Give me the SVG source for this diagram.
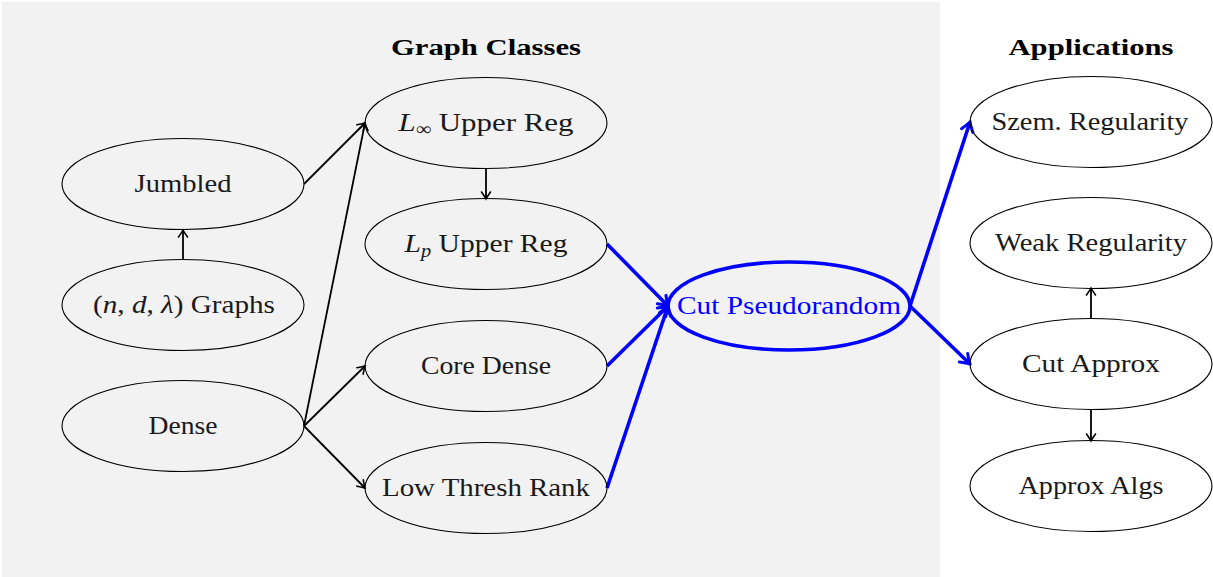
<svg xmlns="http://www.w3.org/2000/svg" width="1213" height="577" viewBox="0 0 1213 577">
<style>
.bg{fill:#f2f2f2}
.node{fill:none;stroke:#000;stroke-width:1.1}
.hub{fill:none;stroke:#0000ff;stroke-width:3.6}
.lbl{font-family:"Liberation Serif","Times New Roman",serif;font-size:26px;fill:#1a1a1a;text-anchor:middle}
.it{font-style:italic}
.sub{font-size:18px}
.title{font-family:"Liberation Serif","Times New Roman",serif;font-size:23px;font-weight:bold;fill:#000;text-anchor:middle}
.blk{stroke:#000;stroke-width:1.8;fill:none}
.blu{stroke:#0000ff;stroke-width:3.6;fill:none}
</style>
<defs>
<marker id="ab" viewBox="-10 -6 12 12" refX="0" refY="0" markerWidth="12" markerHeight="12" markerUnits="userSpaceOnUse" orient="auto">
<path d="M-7,-4.5 Q-2,-1 0,0 Q-2,1 -7,4.5" fill="none" stroke="#000" stroke-width="1.6" stroke-linecap="round"/>
</marker>
<marker id="au" viewBox="-12 -8 14 16" refX="0" refY="0" markerWidth="14" markerHeight="16" markerUnits="userSpaceOnUse" orient="auto">
<path d="M-9,-6 Q-3,-1.5 0,0 Q-3,1.5 -9,6" fill="none" stroke="#0000ff" stroke-width="3" stroke-linecap="round"/>
</marker>
</defs>
<rect class="bg" x="2" y="2" width="938" height="575"/>
<text class="title" x="486" y="55" textLength="190" lengthAdjust="spacingAndGlyphs">Graph Classes</text>
<text class="title" x="1091" y="55" textLength="165" lengthAdjust="spacingAndGlyphs">Applications</text>
<g id="connectors">
<line class="blk" x1="183" y1="260" x2="183" y2="230" marker-end="url(#ab)"/>
<line class="blk" x1="304" y1="184" x2="365" y2="123" marker-end="url(#ab)"/>
<line class="blk" x1="304" y1="426" x2="365" y2="123" marker-end="url(#ab)"/>
<line class="blk" x1="304" y1="426" x2="365" y2="366" marker-end="url(#ab)"/>
<line class="blk" x1="304" y1="426" x2="365" y2="488" marker-end="url(#ab)"/>
<line class="blk" x1="486" y1="169" x2="486" y2="199" marker-end="url(#ab)"/>
<line class="blu" x1="607" y1="244" x2="668" y2="306" marker-end="url(#au)"/>
<line class="blu" x1="607" y1="366" x2="668" y2="306" marker-end="url(#au)"/>
<line class="blu" x1="607" y1="488" x2="668" y2="306" marker-end="url(#au)"/>
<line class="blu" x1="910" y1="306" x2="970" y2="122" marker-end="url(#au)"/>
<line class="blu" x1="910" y1="306" x2="970" y2="364" marker-end="url(#au)"/>
<line class="blk" x1="1091" y1="319" x2="1091" y2="288" marker-end="url(#ab)"/>
<line class="blk" x1="1091" y1="410" x2="1091" y2="441" marker-end="url(#ab)"/>
</g>
<g id="jumbled"><ellipse class="node" cx="183" cy="184" rx="121" ry="45.5"/><text class="lbl" x="183" y="192" textLength="97" lengthAdjust="spacingAndGlyphs">Jumbled</text></g>
<g id="ndl"><ellipse class="node" cx="183" cy="305" rx="121" ry="45.5"/><text class="lbl" x="184" y="313" textLength="182" lengthAdjust="spacingAndGlyphs">(<tspan class="it">n</tspan>, <tspan class="it">d</tspan>, <tspan class="it">λ</tspan>) Graphs</text></g>
<g id="dense"><ellipse class="node" cx="183" cy="426" rx="121" ry="45.5"/><text class="lbl" x="183" y="434" textLength="69" lengthAdjust="spacingAndGlyphs">Dense</text></g>
<g id="linf"><ellipse class="node" cx="486" cy="123" rx="121" ry="45.5"/><text class="lbl" x="486" y="131" textLength="175" lengthAdjust="spacingAndGlyphs"><tspan class="it">L</tspan><tspan class="sub" dy="4">∞</tspan><tspan dy="-4"> Upper Reg</tspan></text></g>
<g id="lp"><ellipse class="node" cx="486" cy="244" rx="121" ry="45.5"/><text class="lbl" x="486" y="252" textLength="163" lengthAdjust="spacingAndGlyphs"><tspan class="it">L</tspan><tspan class="sub it" dy="5">p</tspan><tspan dy="-5"> Upper Reg</tspan></text></g>
<g id="core"><ellipse class="node" cx="486" cy="366" rx="121" ry="45.5"/><text class="lbl" x="486" y="374" textLength="130" lengthAdjust="spacingAndGlyphs">Core Dense</text></g>
<g id="lowthresh"><ellipse class="node" cx="486" cy="488" rx="121" ry="45.5"/><text class="lbl" x="486" y="496" textLength="208" lengthAdjust="spacingAndGlyphs">Low Thresh Rank</text></g>
<g id="cutpr"><ellipse class="hub" cx="789" cy="306" rx="121" ry="44"/><text class="lbl" x="789" y="314" style="fill:#0000ff" textLength="224" lengthAdjust="spacingAndGlyphs">Cut Pseudorandom</text></g>
<g id="szem"><ellipse class="node" cx="1091" cy="122" rx="121" ry="45.5"/><text class="lbl" x="1090" y="130" textLength="197" lengthAdjust="spacingAndGlyphs">Szem. Regularity</text></g>
<g id="weak"><ellipse class="node" cx="1091" cy="243" rx="121" ry="45.5"/><text class="lbl" x="1091" y="251" textLength="192" lengthAdjust="spacingAndGlyphs">Weak Regularity</text></g>
<g id="cutapprox"><ellipse class="node" cx="1091" cy="364" rx="121" ry="45.5"/><text class="lbl" x="1091" y="372" textLength="138" lengthAdjust="spacingAndGlyphs">Cut Approx</text></g>
<g id="approxalgs"><ellipse class="node" cx="1091" cy="486" rx="121" ry="45.5"/><text class="lbl" x="1091" y="494" textLength="145" lengthAdjust="spacingAndGlyphs">Approx Algs</text></g>
</svg>
